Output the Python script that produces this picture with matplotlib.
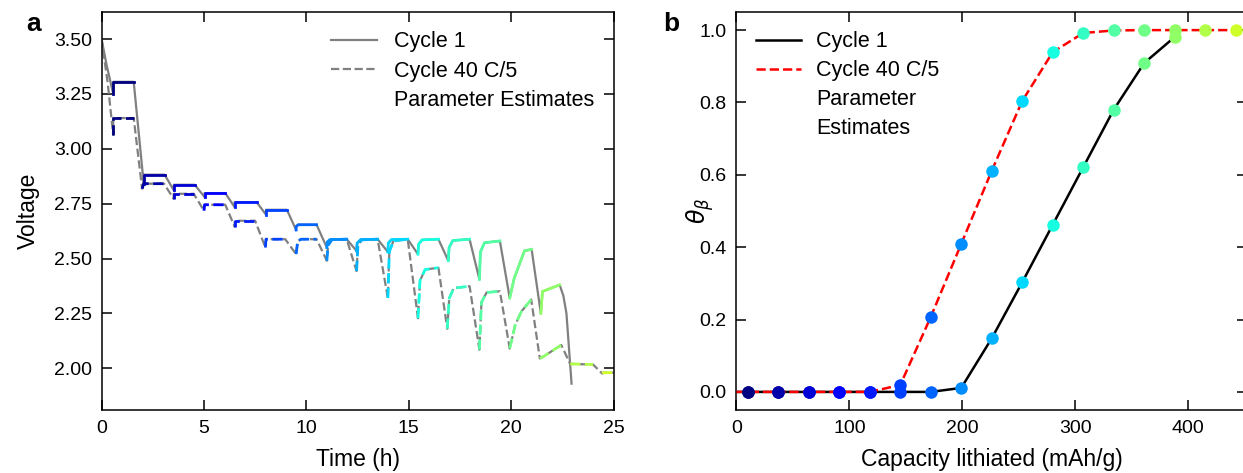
import matplotlib
matplotlib.use("Agg")
import matplotlib.pyplot as plt
from matplotlib.lines import Line2D

plt.rcParams['font.family'] = ['Liberation Sans', 'DejaVu Sans']

# ---- panel a: GITT voltage traces, (time h, voltage V) ----
# each rest period is traced separately; the pulses join one rest to the next
c1_start = [(0.0, 3.50), (0.25, 3.38)]
c1_rests = [
    [(0.57, 3.25), (0.57, 3.305), (1.57, 3.305)],
    [(2.06, 2.84), (2.06, 2.882), (3.08, 2.882)],
    [(3.53, 2.81), (3.53, 2.836), (4.55, 2.836)],
    [(5.03, 2.78), (5.03, 2.798), (6.04, 2.798)],
    [(6.50, 2.734), (6.50, 2.757), (7.57, 2.757)],
    [(8.03, 2.70), (8.03, 2.722), (9.05, 2.722)],
    [(9.50, 2.63), (9.50, 2.645), (9.60, 2.654), (10.5, 2.654)],
    [(11.0, 2.55), (11.02, 2.575), (11.15, 2.586), (11.97, 2.588)],
    [(12.45, 2.535), (12.48, 2.57), (12.65, 2.586), (13.48, 2.588)],
    [(13.98, 2.53), (14.0, 2.57), (14.15, 2.586), (14.95, 2.588)],
    [(15.45, 2.52), (15.48, 2.565), (15.65, 2.585), (16.45, 2.588)],
    [(16.93, 2.49), (16.97, 2.55), (17.15, 2.582), (17.97, 2.588)],
    [(18.45, 2.405), (18.50, 2.53), (18.70, 2.572), (19.45, 2.58)],
    [(19.93, 2.32), (20.15, 2.41), (20.65, 2.535), (21.0, 2.542)],
    [(21.45, 2.25), (21.53, 2.35), (22.37, 2.38)],
]
c1_tail = [(22.55, 2.33), (22.70, 2.25), (22.95, 1.93)]

c40_start = [(0.0, 3.50), (0.30, 3.30)]
c40_rests = [
    [(0.57, 3.063), (0.57, 3.14), (1.57, 3.14)],
    [(1.98, 2.818), (2.06, 2.841), (3.05, 2.841)],
    [(3.52, 2.772), (3.52, 2.795), (4.50, 2.795)],
    [(5.00, 2.718), (5.03, 2.745), (6.04, 2.745)],
    [(6.50, 2.645), (6.50, 2.672), (7.50, 2.672)],
    [(8.00, 2.55), (8.03, 2.588), (8.97, 2.588)],
    [(9.50, 2.52), (9.58, 2.58), (9.75, 2.588), (10.5, 2.588)],
    [(11.0, 2.49), (11.06, 2.56), (11.25, 2.586), (11.97, 2.588)],
    [(12.45, 2.443), (12.52, 2.56), (12.70, 2.585), (13.48, 2.588)],
    [(13.98, 2.32), (14.05, 2.53), (14.25, 2.58), (14.95, 2.588)],
    [(15.45, 2.228), (15.55, 2.40), (15.80, 2.45), (16.45, 2.458)],
    [(16.88, 2.18), (16.98, 2.32), (17.20, 2.365), (17.97, 2.374)],
    [(18.45, 2.085), (18.55, 2.30), (18.80, 2.345), (19.45, 2.351)],
    [(19.93, 2.09), (20.20, 2.198), (20.50, 2.259), (20.98, 2.313)],
    [(21.40, 2.045), (21.55, 2.052), (22.45, 2.106)],
    [(22.88, 2.02), (22.90, 2.02), (24.0, 2.017)],
    [(24.45, 1.976), (24.50, 1.98), (25.0, 1.98)],
]

# ---- panel b: theta_beta vs capacity lithiated ----
capacity = [10, 37, 64, 91, 118, 145, 172, 199, 226, 253, 280, 307, 334, 361, 388, 415, 442]
theta_c40 = [0, 0, 0, 0, 0, 0.019, 0.207, 0.409, 0.611, 0.804, 0.939, 0.992, 0.999, 1.0, 1.0, 1.0, 1.0]
theta_c1 = [0, 0, 0, 0, 0, 0, 0, 0.011, 0.148, 0.303, 0.462, 0.621, 0.780, 0.909, 0.981]

cmap = plt.get_cmap('jet')
cstep = 0.0375


def color(i):
    return cmap(i * cstep)


def full_trace(start, rests, tail=()):
    pts = list(start)
    for r in rests:
        pts += r
    pts += list(tail)
    return [p[0] for p in pts], [p[1] for p in pts]


fig = plt.figure(figsize=(12.43, 4.73), dpi=100)
ax1 = fig.add_axes([0.0817, 0.1332, 0.4119, 0.8414])
ax2 = fig.add_axes([0.5925, 0.1332, 0.4107, 0.8414])

gray = '#808080'
t, v = full_trace(c1_start, c1_rests, c1_tail)
ax1.plot(t, v, color=gray, lw=1.6, zorder=2)
t, v = full_trace(c40_start, c40_rests)
ax1.plot(t, v, color=gray, lw=1.6, ls='--', zorder=2)
for i, r in enumerate(c1_rests):
    ax1.plot([p[0] for p in r], [p[1] for p in r], color=color(i), lw=2.0, zorder=3)
for i, r in enumerate(c40_rests):
    ax1.plot([p[0] for p in r], [p[1] for p in r], color=color(i), lw=2.0, ls='--', zorder=3)

ax1.set_xlim(0, 25)
ax1.set_ylim(1.81, 3.623)
ax1.set_xticks([0, 5, 10, 15, 20, 25])
ax1.set_yticks([2.00, 2.25, 2.50, 2.75, 3.00, 3.25, 3.50])
ax1.set_yticklabels(['2.00', '2.25', '2.50', '2.75', '3.00', '3.25', '3.50'])
ax1.set_xlabel('Time (h)', fontsize=16.5, labelpad=8)
ax1.set_ylabel('Voltage', fontsize=16.5, labelpad=10)

h1 = [Line2D([], [], color=gray, lw=1.6),
      Line2D([], [], color=gray, lw=1.6, ls='--'),
      Line2D([], [], color='none')]
ax1.legend(h1, ['Cycle 1', 'Cycle 40 C/5', 'Parameter Estimates'],
           loc='upper right', frameon=False, fontsize=15.5, handlelength=2.1,
           labelspacing=0.38)

# panel b
ax2.plot([0] + capacity[:len(theta_c1)], [0] + theta_c1, color='black', lw=1.8, zorder=2)
ax2.plot([0] + capacity, [0] + theta_c40, color='red', lw=1.8, ls='--', zorder=3)
for i, (x, y) in enumerate(zip(capacity, theta_c1)):
    ax2.plot(x, y, 'o', color=color(i), ms=9, mec='none', zorder=4)
for i, (x, y) in enumerate(zip(capacity, theta_c40)):
    ax2.plot(x, y, 'o', color=color(i), ms=9, mec='none', zorder=5)

ax2.set_xlim(0, 452)
ax2.set_ylim(-0.05, 1.05)
ax2.set_xticks([0, 100, 200, 300, 400])
ax2.set_yticks([0.0, 0.2, 0.4, 0.6, 0.8, 1.0])
ax2.set_xlabel('Capacity lithiated (mAh/g)', fontsize=16.5, labelpad=8)
ax2.set_ylabel(r'$\theta_\beta$', fontsize=17, labelpad=-12)

h2 = [Line2D([], [], color='black', lw=1.8),
      Line2D([], [], color='red', lw=1.8, ls='--'),
      Line2D([], [], color='none'),
      Line2D([], [], color='none')]
ax2.legend(h2, ['Cycle 1', 'Cycle 40 C/5', 'Parameter', 'Estimates'],
           loc='upper left', frameon=False, fontsize=15.5, handlelength=2.1,
           handletextpad=0.7, labelspacing=0.36)

for ax in (ax1, ax2):
    ax.tick_params(direction='in', length=7, width=1.1, labelsize=14, pad=7,
                   top=True, right=True)
    for s in ax.spines.values():
        s.set_linewidth(1.1)

fig.text(0.027, 0.95, 'a', fontsize=19, fontweight='bold', ha='center', va='center')
fig.text(0.54, 0.95, 'b', fontsize=19, fontweight='bold', ha='center', va='center')

fig.savefig('out.png', dpi=100)
